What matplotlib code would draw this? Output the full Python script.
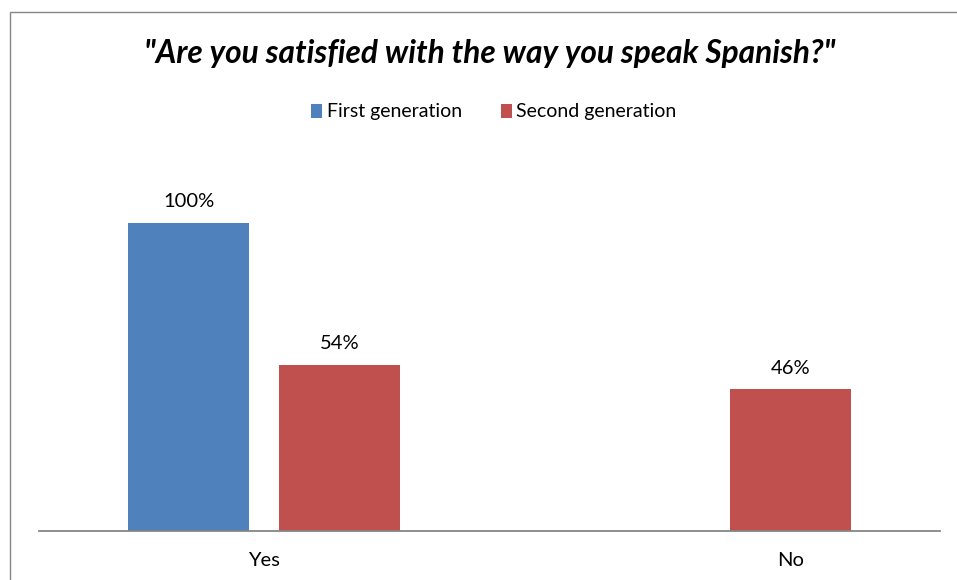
import matplotlib
matplotlib.use("Agg")
import matplotlib.pyplot as plt
from matplotlib.patches import Rectangle, Patch
import numpy as np

categories = ["Yes", "No"]
series_names = ["First generation", "Second generation"]
first_gen = [1.00, None]
second_gen = [0.54, 0.46]
colors = ["#4F81BD", "#C0504D"]

W, H = 957, 580
plt.rcParams["font.family"] = ["Lato", "DejaVu Sans"]

fig = plt.figure(figsize=(W / 100, H / 100), dpi=100)
fig.patch.set_facecolor("white")

# chart-area frame (runs off the right and bottom edges)
fig.add_artist(Rectangle((10 / W, -0.05), 1.2, 1 - 12 / H + 0.05,
                         transform=fig.transFigure, fill=False,
                         edgecolor="#868686", linewidth=1.0))

ax = fig.add_axes([39 / W, (H - 531) / H, (940 - 39) / W, (531 - 161) / H])

x = np.arange(len(categories))
width = 0.2686
offset = 0.1676

label_pos = []
for i in range(len(categories)):
    centers = []
    for j, vals in enumerate([first_gen, second_gen]):
        v = vals[i]
        if v is None:
            continue
        cx = x[i] + (-offset if j == 0 else offset)
        ax.bar(cx, v, width=width, color=colors[j], linewidth=0)
        ax.annotate(f"{v:.0%}", (cx, v), xytext=(0, 15), textcoords="offset points",
                    ha="center", va="center", fontsize=14.5, color="#000000")
        centers.append(cx)
    label_pos.append(np.mean(centers))

ax.set_xlim(-0.5, 1.5)
ax.set_ylim(0, 1.2)
ax.set_xticks(label_pos)
ax.set_xticklabels(categories, fontsize=14.5)
ax.tick_params(axis="x", length=0, pad=15)
ax.set_yticks([])
for s in ["top", "right", "left"]:
    ax.spines[s].set_visible(False)
ax.spines["bottom"].set_color("#868686")
ax.spines["bottom"].set_linewidth(1.3)

fig.text(490 / W, 1 - 63 / H, "\"Are you satisfied with the way you speak Spanish?\"",
         ha="center", va="baseline", fontsize=22.8, fontweight="bold", fontstyle="italic")

handles = [Patch(facecolor=c, edgecolor="none") for c in colors]
fig.legend(handles, series_names, loc="center", bbox_to_anchor=(494 / W, 1 - 112 / H),
           ncol=2, frameon=False, fontsize=14, handlelength=0.55, handleheight=0.75,
           handletextpad=0.25, columnspacing=2.0)

fig.savefig("out.png", dpi=100)
